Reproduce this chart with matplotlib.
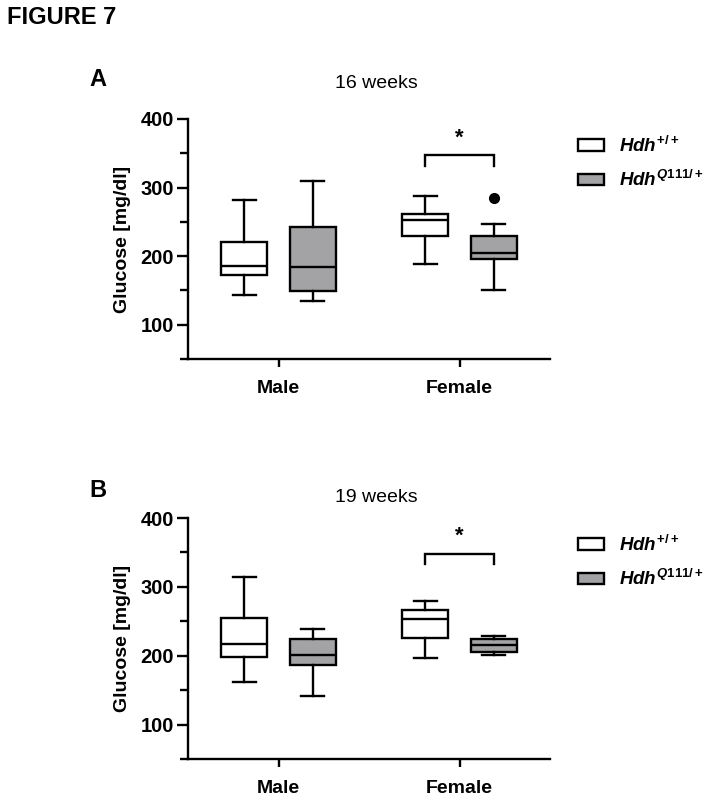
import matplotlib
matplotlib.use("Agg")
import matplotlib.pyplot as plt
from matplotlib.patches import Patch
from matplotlib.ticker import MultipleLocator

plt.rcParams['font.family'] = ['Liberation Sans', 'DejaVu Sans']
plt.rcParams['mathtext.fontset'] = 'custom'
plt.rcParams['mathtext.it'] = 'Liberation Sans:italic:bold'
plt.rcParams['mathtext.rm'] = 'Liberation Sans:bold'
plt.rcParams['mathtext.bf'] = 'Liberation Sans:bold'

# data: (whislo, q1, med, q3, whishi, fliers)
groups = ['Male', 'Female']
genotypes = [r'$Hdh^{+/+}$', r'$Hdh^{Q\mathit{111}/+}$']
titles = ['16 weeks', '19 weeks']
panel_letters = ['A', 'B']

wk16_wt = [(143, 173, 185, 221, 282, []), (188, 230, 253, 261, 287, [])]
wk16_q111 = [(134, 149, 184, 243, 310, []), (151, 196, 204, 230, 247, [285])]
wk19_wt = [(162, 198, 217, 255, 315, []), (196, 226, 254, 267, 279, [])]
wk19_q111 = [(142, 186, 201, 224, 239, []), (201, 205, 215, 224, 228, [])]

sig_y = [347, 348]
ylim = (50, 400)

colors = ['white', '#a3a3a6']
offset = 0.19
bw = 0.255
lw = 1.7


def stats(rows):
    out = []
    for lo, q1, med, q3, hi, fl in rows:
        out.append(dict(whislo=lo, q1=q1, med=med, q3=q3, whishi=hi, fliers=fl))
    return out


fig = plt.figure(figsize=(7.14, 8), dpi=100)
fig.text(7/714, 1-17/800, 'FIGURE 7', fontsize=17, fontweight='bold', va='center', ha='left')

ax_a = fig.add_axes([188/714, 1-359/800, 362/714, 240/800])
ax_b = fig.add_axes([188/714, 1-759/800, 362/714, 241/800])

panels = [(ax_a, wk16_wt, wk16_q111), (ax_b, wk19_wt, wk19_q111)]
title_y = [1.148, 1.087]
letter_y = [80, 490]

for i, (ax, wt, q111) in enumerate(panels):
    for j, rows in enumerate([wt, q111]):
        pos = [k + (-offset if j == 0 else offset) for k in range(len(groups))]
        ax.bxp(stats(rows), positions=pos, widths=bw, patch_artist=True,
               boxprops=dict(facecolor=colors[j], edgecolor='black', linewidth=lw),
               medianprops=dict(color='black', linewidth=lw),
               whiskerprops=dict(color='black', linewidth=lw),
               capprops=dict(color='black', linewidth=lw),
               flierprops=dict(marker='o', markerfacecolor='black',
                               markeredgecolor='black', markersize=7))
    # significance bracket over Female
    x0, x1 = 1 - offset, 1 + offset
    y = sig_y[i]
    ax.plot([x0, x0, x1, x1], [y - 15, y, y, y - 15], color='black', lw=lw,
            solid_joinstyle='miter')
    ax.text(1, y + 25, '*', ha='center', va='center', fontsize=16, fontweight='bold')

    ax.set_xlim(-0.5, 1.5)
    ax.set_ylim(*ylim)
    ax.set_xticks(range(len(groups)))
    ax.set_xticklabels(groups, fontsize=14, fontweight='bold')
    ax.set_yticks([100, 200, 300, 400])
    ax.set_yticklabels(['100', '200', '300', '400'], fontsize=14.5, fontweight='bold')
    ax.yaxis.set_minor_locator(MultipleLocator(50))
    ax.tick_params(axis='y', which='major', length=8, width=lw, pad=2)
    ax.tick_params(axis='y', which='minor', length=6, width=lw)
    ax.tick_params(axis='x', length=6, width=lw, pad=9)
    for s in ['top', 'right']:
        ax.spines[s].set_visible(False)
    for s in ['left', 'bottom']:
        ax.spines[s].set_linewidth(lw)
    ax.set_ylabel('Glucose [mg/dl]', fontsize=14, fontweight='bold', labelpad=7)

    ax.text(0.52, title_y[i], titles[i], transform=ax.transAxes, ha='center',
            va='center', fontsize=14)
    fig.text(98/714, 1-letter_y[i]/800, panel_letters[i], fontsize=17,
             fontweight='bold', ha='center', va='center')

    handles = [Patch(facecolor=c, edgecolor='black', linewidth=lw) for c in colors]
    ax.legend(handles, genotypes, loc='upper left', bbox_to_anchor=(1.03, 1.0),
              frameon=False, fontsize=13.5, handlelength=1.4, handleheight=0.6,
              labelspacing=0.75, handletextpad=0.8)

fig.savefig('out.png', dpi=100)
